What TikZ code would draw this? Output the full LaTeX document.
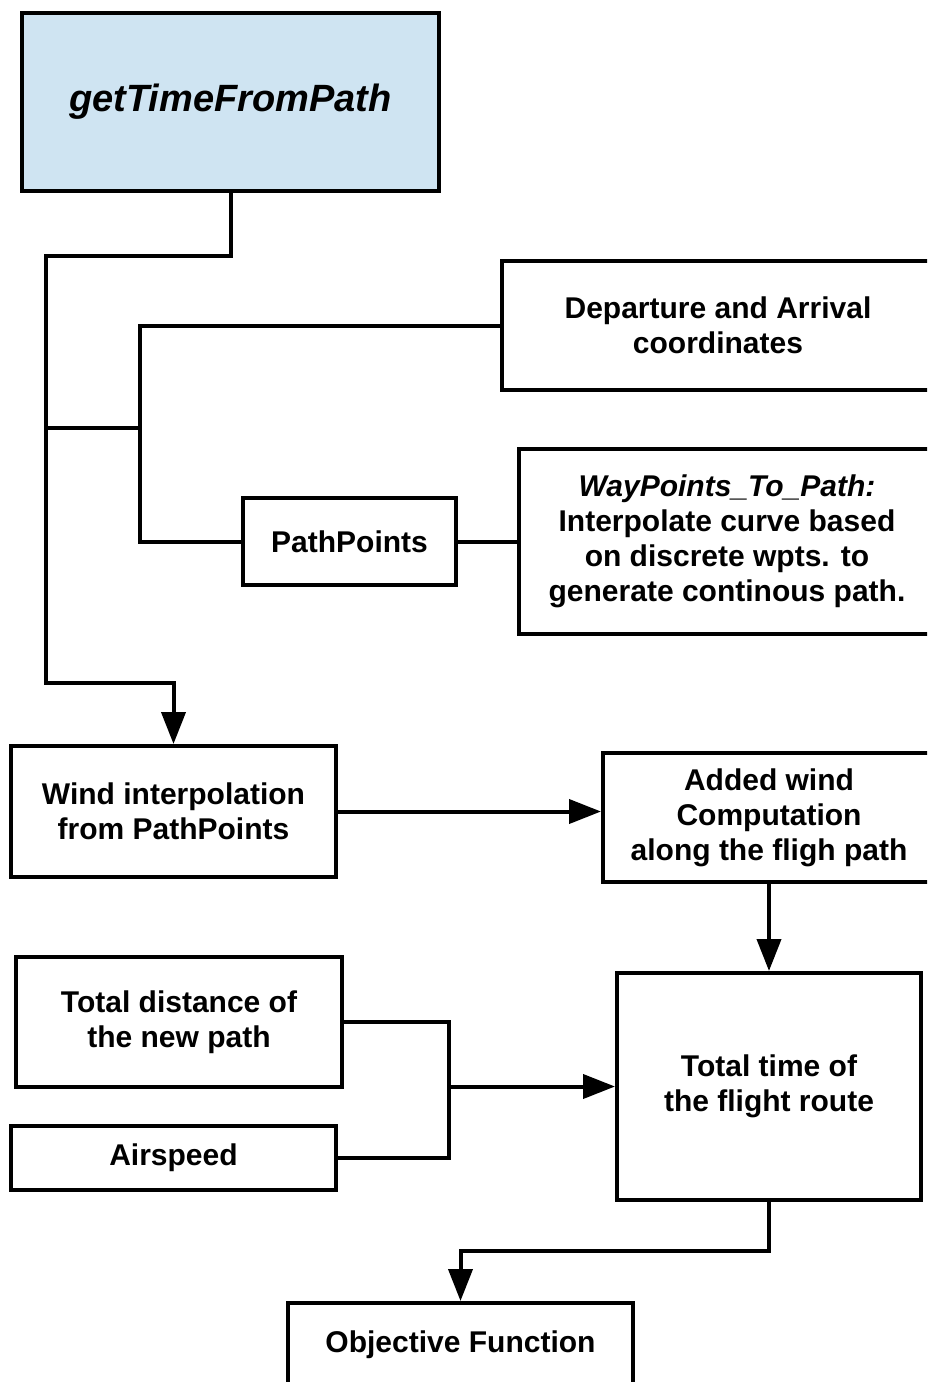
\documentclass[tikz,border=0pt]{standalone}
\usepackage{fontspec}
\setmainfont{Liberation Sans}
\usetikzlibrary{arrows.meta}
\definecolor{headblue}{HTML}{CFE4F2}
\tikzset{
  box/.style={draw=black, line width=4pt, fill=white, inner sep=0pt, align=center,
              font=\fontsize{30}{35}\selectfont\bfseries},
  wire/.style={draw=black, line width=4pt, line join=miter},
  arr/.style={wire, -{Triangle[length=32pt,width=24pt]}}
}
\begin{document}
\begin{tikzpicture}[x=1pt, y=-1pt]
\useasboundingbox (0,0) rectangle (927,1382);
\clip (0,0) rectangle (927,1382);
\fill[white] (0,0) rectangle (927,1382);

% boxes
\node[box, fill=headblue, minimum width=417pt, minimum height=178pt,
      font=\fontsize{38}{42}\selectfont\bfseries\itshape] (top) at (230.5,102) {getTimeFromPath};
\node[box, minimum width=432pt, minimum height=129pt] (dep) at (718,325.5)
  {Departure and Arrival\\coordinates};
\node[box, minimum width=213pt, minimum height=87pt] (pp) at (349.5,541.5) {PathPoints};
\node[box, minimum width=416pt, minimum height=185pt] (wp) at (727,541.5)
  {\itshape WayPoints\_To\_Path:\\Interpolate curve based\\on discrete wpts. to\\generate continous path.};
\node[box, minimum width=325pt, minimum height=131pt] (wind) at (173.5,811.5)
  {Wind interpolation\\from PathPoints};
\node[box, minimum width=332pt, minimum height=129pt] (added) at (769,817.5)
  {Added wind\\Computation\\along the fligh path};
\node[box, minimum width=326pt, minimum height=130pt] (dist) at (179,1022)
  {Total distance of\\the new path};
\node[box, minimum width=325pt, minimum height=64pt] (air) at (173.5,1158) {Airspeed};
\node[box, minimum width=304pt, minimum height=227pt] (total) at (769,1086.5)
  {Total time of\\the flight route};
\node[box, minimum width=345pt, minimum height=84pt] (obj) at (460.5,1345) {Objective Function};

% main trunk from the function box down to the wind interpolation
\coordinate (trunkTop) at (46,256);
\coordinate (trunkBot) at (46,683);
\coordinate (br) at (46,428);
\coordinate (bus) at (140,428);
\draw[arr] (top.south) |- (trunkTop) -- (trunkBot) -| (wind.north);

% inputs of the path
\draw[wire] (br) -- (bus);
\draw[wire] (dep.west) -| (bus) |- (pp.west);
\draw[wire] (pp.east) -- (wp.west);

% wind and time computation
\draw[arr] (wind.east) -- (wind.east -| added.west);
\draw[arr] (added.south) -- (added.south |- total.north);

\coordinate (jTop) at (449,1022);
\coordinate (jBot) at (449,1158);
\coordinate (jMid) at (449,1086.5);
\draw[wire] (dist.east) -- (jTop) -- (jBot) -- (air.east);
\draw[arr] (jMid) -- (total.west);

\draw[arr] (total.south) -- ++(0,49) -| (obj.north);
\end{tikzpicture}
\end{document}
